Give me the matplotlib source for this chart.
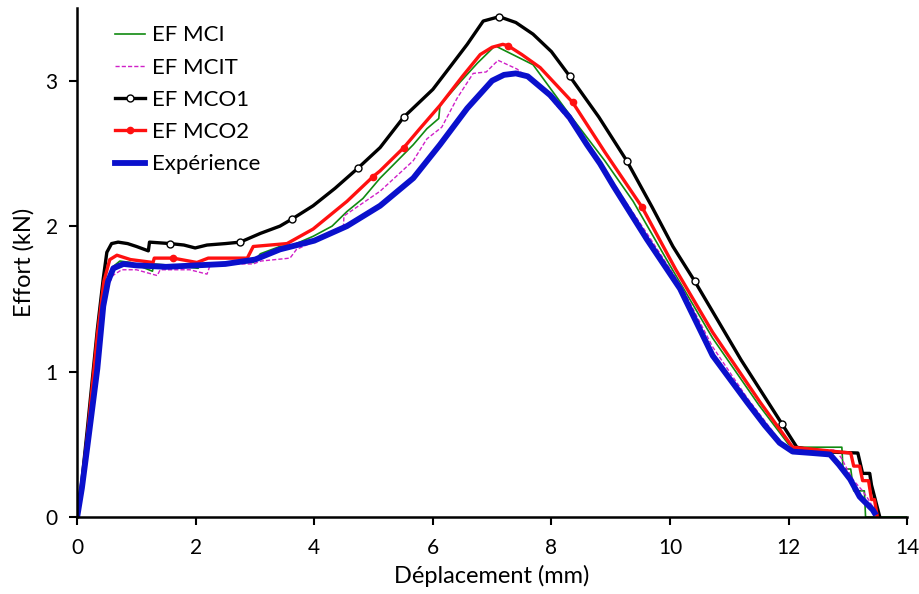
import matplotlib.pyplot as plt

plt.rcParams['font.family'] = ['Lato', 'DejaVu Sans']

# EF MCI (vert)
x_mci = [0, 0.08, 0.17, 0.34, 0.45, 0.6, 0.72, 0.9, 1.27, 1.29, 1.6, 2.04, 2.07, 2.5, 2.97, 3.09, 3.42,
         3.64, 3.98, 4.3, 4.55, 4.82, 5.11, 5.33, 5.67, 5.9, 6.1, 6.12, 6.46, 6.75, 7.05, 7.69, 8.3,
         8.9, 9.38, 10.0, 10.72, 11.5, 12.0, 12.1, 12.9, 12.92, 13.05, 13.1, 13.28, 13.3, 14.0]
y_mci = [0, 0.22, 0.55, 1.22, 1.58, 1.72, 1.76, 1.75, 1.69, 1.74, 1.73, 1.71, 1.74, 1.75, 1.75, 1.81, 1.86,
         1.87, 1.93, 2.0, 2.10, 2.19, 2.33, 2.42, 2.56, 2.67, 2.74, 2.83, 2.99, 3.12, 3.24, 3.11, 2.77,
         2.45, 2.17, 1.73, 1.23, 0.77, 0.50, 0.48, 0.48, 0.33, 0.33, 0.18, 0.18, 0.0, 0.0]

# EF MCIT (magenta, pointillé)
x_mcit = [0, 0.08, 0.17, 0.34, 0.45, 0.6, 0.75, 1.0, 1.35, 1.4, 1.9, 2.19, 2.25, 2.6, 2.97, 3.1, 3.59,
          3.7, 4.2, 4.49, 4.5, 5.11, 5.67, 5.9, 6.15, 6.41, 6.68, 6.9, 7.1, 7.42, 7.9, 8.6, 9.2,
          9.66, 10.2, 10.72, 11.3, 11.9, 12.1, 12.8, 12.9, 13.0, 13.1, 13.25, 13.35, 13.45, 13.48]
y_mcit = [0, 0.2, 0.5, 1.15, 1.52, 1.66, 1.70, 1.70, 1.66, 1.70, 1.70, 1.67, 1.74, 1.74, 1.74, 1.76, 1.78,
          1.84, 1.93, 1.98, 2.07, 2.24, 2.45, 2.60, 2.68, 2.88, 3.05, 3.06, 3.14, 3.08, 2.92, 2.58, 2.20,
          1.92, 1.58, 1.17, 0.82, 0.50, 0.47, 0.46, 0.40, 0.32, 0.25, 0.18, 0.12, 0.05, 0.0]

# EF MCO1 (noir, cercles)
x_mco1 = [0, 0.08, 0.17, 0.34, 0.44, 0.5, 0.58, 0.69, 0.85, 1.0, 1.2, 1.22, 1.57, 1.8, 1.99, 2.19,
          2.5, 2.75, 3.09, 3.42, 3.63, 3.98, 4.35, 4.74, 5.11, 5.51, 6.0, 6.3, 6.58, 6.85, 7.12,
          7.4, 7.69, 8.0, 8.31, 8.8, 9.27, 9.7, 10.05, 10.42, 11.2, 11.89, 12.14, 12.5, 13.17,
          13.25, 13.37, 13.4, 13.54]
y_mco1 = [0, 0.25, 0.6, 1.29, 1.64, 1.82, 1.88, 1.89, 1.88, 1.86, 1.83, 1.89, 1.88, 1.87, 1.85, 1.87,
          1.88, 1.89, 1.95, 2.0, 2.05, 2.14, 2.26, 2.40, 2.54, 2.75, 2.94, 3.10, 3.25, 3.41, 3.44,
          3.40, 3.32, 3.20, 3.03, 2.75, 2.45, 2.13, 1.86, 1.62, 1.08, 0.64, 0.48, 0.45, 0.44,
          0.30, 0.30, 0.22, 0.0]
mk_mco1 = [12, 17, 20, 23, 25, 30, 34, 36, 39, 41]

# EF MCO2 (rouge, points)
x_mco2 = [0, 0.08, 0.17, 0.34, 0.45, 0.55, 0.67, 0.9, 1.28, 1.3, 1.62, 2.02, 2.21, 2.87, 2.97, 3.54,
          3.98, 4.55, 4.99, 5.11, 5.51, 5.78, 6.12, 6.5, 6.8, 7.0, 7.18, 7.27, 7.5, 7.81, 8.36,
          8.9, 9.53, 10.1, 10.72, 11.52, 12.07, 12.8, 13.05, 13.1, 13.2, 13.25, 13.35, 13.4,
          13.45, 13.5]
y_mco2 = [0, 0.22, 0.55, 1.25, 1.62, 1.77, 1.80, 1.77, 1.75, 1.78, 1.78, 1.75, 1.78, 1.78, 1.86, 1.88,
          1.98, 2.17, 2.34, 2.38, 2.54, 2.67, 2.83, 3.03, 3.18, 3.23, 3.25, 3.24, 3.18, 3.09, 2.85,
          2.51, 2.13, 1.70, 1.27, 0.79, 0.48, 0.45, 0.44, 0.35, 0.35, 0.25, 0.25, 0.12,
          0.12, 0.0]
mk_mco2 = [10, 18, 20, 27, 30, 32]

# Expérience (bleu)
x_exp = [0, 0.08, 0.17, 0.34, 0.44, 0.52, 0.61, 0.78, 1.0, 1.5, 2.0, 2.5, 3.0, 3.42, 4.0, 4.55, 5.11,
         5.67, 6.12, 6.58, 7.0, 7.2, 7.4, 7.6, 7.98, 8.3, 8.6, 8.82, 9.04, 9.61, 10.17, 10.72,
         11.3, 11.6, 11.85, 12.07, 12.4, 12.7, 12.85, 13.04, 13.2, 13.42, 13.45]
y_exp = [0, 0.2, 0.48, 1.02, 1.45, 1.62, 1.71, 1.74, 1.73, 1.72, 1.73, 1.74, 1.77, 1.84, 1.90, 2.0, 2.14,
         2.33, 2.56, 2.81, 3.0, 3.04, 3.05, 3.03, 2.90, 2.75, 2.56, 2.43, 2.28, 1.91, 1.57, 1.11,
         0.79, 0.63, 0.51, 0.45, 0.44, 0.43, 0.36, 0.26, 0.14, 0.05, 0.03]

fig = plt.figure(figsize=(9.19, 5.94), dpi=100)
ax = fig.add_axes([0.084, 0.1296, 0.903, 0.857])

ax.plot(x_mci, y_mci, color='#108a10', lw=1.2, label='EF MCI')
ax.plot(x_mcit, y_mcit, color='#d020c8', lw=1.0, ls=(0, (3, 1.5)), label='EF MCIT')
ax.plot(x_mco1, y_mco1, color='black', lw=2.4, marker='o', ms=5, mfc='white', mec='black',
        mew=1.0, markevery=mk_mco1, label='EF MCO1')
ax.plot(x_mco2, y_mco2, color='#ff1010', lw=2.4, marker='o', ms=4.5, mfc='#ff1010', mec='#ff1010',
        markevery=mk_mco2, label='EF MCO2')
ax.plot(x_exp, y_exp, color='#0a10cc', lw=4.2, label='Expérience')

ax.set_xlim(0, 14)
ax.set_ylim(0, 3.5)
ax.set_xticks(range(0, 15, 2))
ax.set_yticks([0, 1, 2, 3])
ax.spines['top'].set_visible(False)
ax.spines['right'].set_visible(False)
ax.spines['left'].set_linewidth(1.8)
ax.spines['bottom'].set_linewidth(1.8)
ax.tick_params(direction='out', length=6, width=1.5, labelsize=15)
ax.tick_params(axis='x', pad=9)
ax.tick_params(axis='y', pad=8)
ax.set_xlabel('Déplacement (mm)', fontsize=17, labelpad=5)
ax.set_ylabel('Effort (kN)', fontsize=17, labelpad=8)

ax.legend(loc='upper left', bbox_to_anchor=(0.022, 1.005), frameon=False, fontsize=16,
          handlelength=1.35, handletextpad=0.3, labelspacing=0.55)

fig.savefig('out.png', dpi=100)
